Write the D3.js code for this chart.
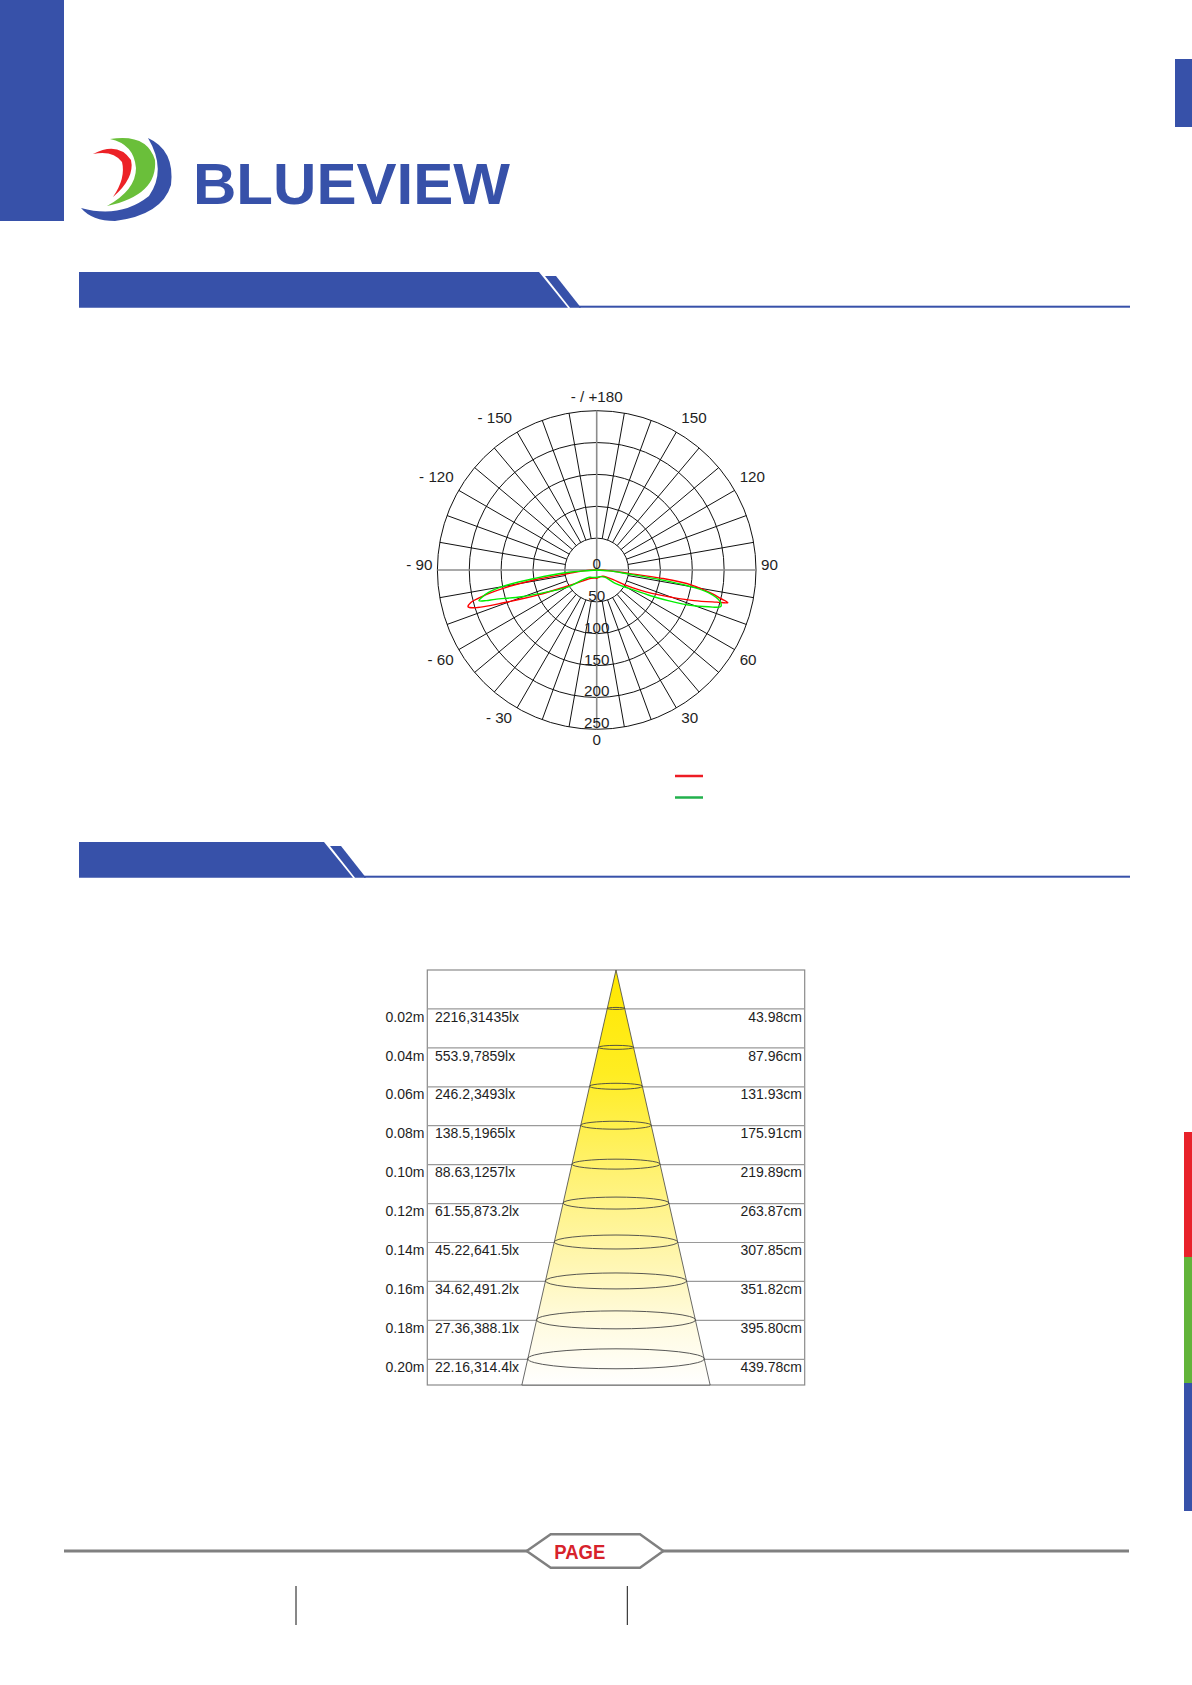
<!doctype html>
<html lang="en">
<head>
  <meta charset="utf-8">
  <title>Blueview photometric data</title>
  <script src="https://cdn.jsdelivr.net/npm/d3@7"></script>
  <style>
    body { margin: 0; background: #fff; }
    svg { display: block; font-family: "Liberation Sans", Arial, sans-serif; }
  </style>
</head>
<body>
  <div id="page"></div>
  <script>
    const BLUE = "#3751a9";
    const RED = "#e8222a";
    const GREEN = "#62b43a";
    const GRID = "#111";
    const AXIS_GREY = "#8c8c8c";
    const TEXT = "#1e1e1e";

    // polar chart: intensity rings (cd/klm) and angle labels
    const ringTicks = [0, 50, 100, 150, 200, 250];
    const angleTicks = [0, 30, 60, 90, 120, 150, 180, -150, -120, -90, -60, -30];
    const angleTickLabels = ["0", "30", "60", "90", "120", "150", "- / +180", "- 150", "- 120", "- 90", "- 60", "- 30"];

    // C0-C180 plane (red), angle 0 = straight down
    const redAngles = [-90, -87, -83, -81, -79, -77, -75.5, -74, -72.5, -70.5, -67, -62, -55, -49, -35, -15, 0,
      15, 30, 45, 55, 60, 62, 65, 67, 70, 72.5, 75, 76, 77, 78.5, 81, 82.7, 84, 87, 90];
    const redValues = [0, 18, 45, 98, 147, 185, 204, 210, 196, 153, 100, 56, 33, 24, 16, 13, 13,
      12, 12, 14, 20, 30, 50, 75, 94, 125, 160, 195, 212, 200, 184, 151, 103, 50, 18, 0];

    // C90-C270 plane (green)
    const greenAngles = [-90, -85, -82.3, -80.3, -78.2, -76.5, -75.4, -74.5, -73.9, -70.4, -65.8, -59.5, -56, -45, -34, 0,
      30, 48.6, 54, 60, 64.2, 66.8, 69.1, 71.8, 73.6, 75.6, 78.5, 80.1, 81.3, 82.8, 86, 90];
    const greenValues = [0, 50, 98, 146, 174, 186, 191, 180, 166, 125, 83, 52, 30, 16, 14, 11.5,
      12, 17, 36, 57, 90, 122, 154, 185, 203, 200, 179, 146, 103, 50, 20, 0];

    // cone diagram
    const distances = [0.02, 0.04, 0.06, 0.08, 0.10, 0.12, 0.14, 0.16, 0.18, 0.20];
    const distanceLabels = ["0.02m", "0.04m", "0.06m", "0.08m", "0.10m", "0.12m", "0.14m", "0.16m", "0.18m", "0.20m"];
    const luxLabels = ["2216,31435lx", "553.9,7859lx", "246.2,3493lx", "138.5,1965lx", "88.63,1257lx",
      "61.55,873.2lx", "45.22,641.5lx", "34.62,491.2lx", "27.36,388.1lx", "22.16,314.4lx"];
    const beamDiameters = [43.98, 87.96, 131.93, 175.91, 219.89, 263.87, 307.85, 351.82, 395.80, 439.78];
    const beamLabels = ["43.98cm", "87.96cm", "131.93cm", "175.91cm", "219.89cm", "263.87cm", "307.85cm", "351.82cm", "395.80cm", "439.78cm"];

    const W = 1192, H = 1685;

    const svg = d3.select("#page").append("svg")
      .attr("width", W)
      .attr("height", H);

    const defs = svg.append("defs");

    // ---------- page furniture ----------
    svg.append("rect").attr("x", 0).attr("y", 0).attr("width", 64).attr("height", 221).attr("fill", BLUE);
    svg.append("rect").attr("x", 1175).attr("y", 59).attr("width", 17).attr("height", 68).attr("fill", BLUE);
    svg.append("rect").attr("x", 1184).attr("y", 1132).attr("width", 8).attr("height", 125).attr("fill", RED);
    svg.append("rect").attr("x", 1184).attr("y", 1257).attr("width", 8).attr("height", 126).attr("fill", GREEN);
    svg.append("rect").attr("x", 1184).attr("y", 1383).attr("width", 8).attr("height", 128).attr("fill", BLUE);

    // logo
    const logo = svg.append("g");
    logo.append("path")
      .attr("d", "M93,154 Q118,141 131,160 Q135,178 113,197 Q126,178 122,162 Q113,150 93,154 Z")
      .attr("fill", "#ec2227");
    logo.append("path")
      .attr("d", "M110,139 Q147,133 155,160 Q158,195 107,206 Q136,190 136,168 Q134,144 110,139 Z")
      .attr("fill", "#6abf3a");
    logo.append("path")
      .attr("d", "M148,138 Q175,150 171,185 Q162,215 115,221 Q92,221 81,208 Q120,219 149,196 Q167,170 148,138 Z")
      .attr("fill", BLUE);
    logo.append("text")
      .attr("x", 193)
      .attr("y", 204)
      .attr("textLength", 317)
      .attr("lengthAdjust", "spacingAndGlyphs")
      .style("font-size", "58px")
      .style("font-weight", "bold")
      .style("fill", BLUE)
      .text("BLUEVIEW");

    function addHeader(y, barEnd) {
      const h = 35.7, slant = 29;
      svg.append("polygon")
        .attr("points", [[79, y], [barEnd, y], [barEnd + slant, y + h], [79, y + h]].join(" "))
        .attr("fill", BLUE);
      svg.append("polygon")
        .attr("points", [[barEnd + 6, y + 4], [barEnd + 17, y + 4], [barEnd + 42, y + h], [barEnd + 31, y + h]].join(" "))
        .attr("fill", BLUE);
      svg.append("rect")
        .attr("x", barEnd + 40).attr("y", y + h - 2)
        .attr("width", 1130 - barEnd - 40).attr("height", 2)
        .attr("fill", BLUE);
    }
    addHeader(272, 539);
    addHeader(842, 324);

    // ---------- polar chart ----------
    const cx = 596.7, cy = 570, R = 159.3;
    const rScale = d3.scaleLinear().domain([0, 250]).range([0, R]);
    // 0 deg points down, positive angles to the right
    const toRad = deg => (180 - deg) * Math.PI / 180;

    const polar = svg.append("g").attr("transform", `translate(${cx},${cy})`);

    polar.selectAll("circle.ring")
      .data(ringTicks.slice(1))
      .join("circle")
      .attr("class", "ring")
      .attr("r", d => rScale(d))
      .attr("fill", "none")
      .attr("stroke", GRID)
      .attr("stroke-width", 1);

    polar.selectAll("line.spoke")
      .data(d3.range(0, 360, 10).filter(a => a % 90 !== 0))
      .join("line")
      .attr("class", "spoke")
      .attr("x1", a => rScale(50) * Math.sin(toRad(a)))
      .attr("y1", a => -rScale(50) * Math.cos(toRad(a)))
      .attr("x2", a => R * Math.sin(toRad(a)))
      .attr("y2", a => -R * Math.cos(toRad(a)))
      .attr("stroke", GRID)
      .attr("stroke-width", 1);

    polar.append("line").attr("x1", -R).attr("x2", R).attr("y1", 0).attr("y2", 0)
      .attr("stroke", AXIS_GREY).attr("stroke-width", 1.6);
    polar.append("line").attr("x1", 0).attr("x2", 0).attr("y1", -R).attr("y2", R)
      .attr("stroke", AXIS_GREY).attr("stroke-width", 1.6);

    // angle labels sit just outside the rim, pushed away from the circle
    function angleLabelPos(a) {
      const s = Math.sin(a * Math.PI / 180);
      const c = Math.cos(a * Math.PI / 180);
      const sx = Math.abs(s) < 0.01 ? 0 : Math.sign(s);
      const sy = Math.abs(c) < 0.01 ? 0 : Math.sign(c);
      return {
        x: R * s + 5 * sx,
        y: R * c + (sy > 0 ? 10 : sy < 0 ? -14 : -5),
        anchor: sx > 0 ? "start" : sx < 0 ? "end" : "middle"
      };
    }

    polar.selectAll("text.angle")
      .data(angleTicks)
      .join("text")
      .attr("class", "angle")
      .attr("x", a => angleLabelPos(a).x)
      .attr("y", a => angleLabelPos(a).y)
      .attr("dy", "0.35em")
      .style("text-anchor", a => angleLabelPos(a).anchor)
      .style("font-size", "15.2px")
      .style("fill", TEXT)
      .text((a, i) => angleTickLabels[i]);

    polar.selectAll("text.ring-label")
      .data(ringTicks)
      .join("text")
      .attr("class", "ring-label")
      .attr("x", 0)
      .attr("y", d => rScale(d) - 1)
      .style("text-anchor", "middle")
      .style("font-size", "15.2px")
      .style("fill", TEXT)
      .text(d => d);

    const radial = d3.lineRadial()
      .angle(d => toRad(d.a))
      .radius(d => rScale(d.v))
      .curve(d3.curveCatmullRom.alpha(0.5));

    const redCurve = redAngles.map((a, i) => ({ a, v: redValues[i] }));
    const greenCurve = greenAngles.map((a, i) => ({ a, v: greenValues[i] }));

    polar.append("path")
      .datum(redCurve)
      .attr("d", radial)
      .attr("fill", "none")
      .attr("stroke", "#ff0000")
      .attr("stroke-width", 1.4);
    polar.append("path")
      .datum(greenCurve)
      .attr("d", radial)
      .attr("fill", "none")
      .attr("stroke", "#00ee00")
      .attr("stroke-width", 1.4);

    // legend swatches
    svg.append("line").attr("x1", 675).attr("x2", 703).attr("y1", 776).attr("y2", 776)
      .attr("stroke", "#ed1c24").attr("stroke-width", 2.5);
    svg.append("line").attr("x1", 675).attr("x2", 703).attr("y1", 797.5).attr("y2", 797.5)
      .attr("stroke", "#22b14c").attr("stroke-width", 2.5);

    // ---------- cone diagram ----------
    const boxLeft = 427.3, boxRight = 804.7, boxTop = 970, boxBottom = 1385, apexX = 616;
    const yScale = d3.scaleLinear().domain([0, 0.2]).range([boxTop, 1359.3]);
    const halfWidth = d3.scaleLinear().domain([0, 439.78]).range([0, 88.3]);
    const bottomDiameter = 439.78 * yScale.invert(boxBottom) / 0.2;

    const grad = defs.append("linearGradient")
      .attr("id", "beam")
      .attr("gradientUnits", "userSpaceOnUse")
      .attr("x1", 0).attr("x2", 0)
      .attr("y1", boxTop).attr("y2", boxBottom);
    grad.append("stop").attr("offset", 0).attr("stop-color", "#ffe800");
    grad.append("stop").attr("offset", 0.25).attr("stop-color", "#ffed22");
    grad.append("stop").attr("offset", 0.5).attr("stop-color", "#fff275");
    grad.append("stop").attr("offset", 0.7).attr("stop-color", "#fff6b0");
    grad.append("stop").attr("offset", 0.86).attr("stop-color", "#fffbe2");
    grad.append("stop").attr("offset", 1).attr("stop-color", "#ffffff");

    const cone = svg.append("g");

    cone.append("rect")
      .attr("x", boxLeft).attr("y", boxTop)
      .attr("width", boxRight - boxLeft).attr("height", boxBottom - boxTop)
      .attr("fill", "none")
      .attr("stroke", "#8a8a8a")
      .attr("stroke-width", 1.2);

    cone.selectAll("line.row")
      .data(distances)
      .join("line")
      .attr("class", "row")
      .attr("x1", boxLeft).attr("x2", boxRight)
      .attr("y1", d => yScale(d)).attr("y2", d => yScale(d))
      .attr("stroke", "#9a9a9a")
      .attr("stroke-width", 1.2);

    const hb = halfWidth(bottomDiameter);
    cone.append("polygon")
      .attr("points", [[apexX, boxTop], [apexX + hb, boxBottom], [apexX - hb, boxBottom]].join(" "))
      .attr("fill", "url(#beam)")
      .attr("stroke", "#444")
      .attr("stroke-width", 0.8);

    cone.selectAll("ellipse")
      .data(distances)
      .join("ellipse")
      .attr("cx", apexX)
      .attr("cy", d => yScale(d) - 0.5)
      .attr("rx", (d, i) => halfWidth(beamDiameters[i]))
      .attr("ry", (d, i) => halfWidth(beamDiameters[i]) * 0.113)
      .attr("fill", "none")
      .attr("stroke", "#444")
      .attr("stroke-width", 0.9);

    const label = (sel, x, anchor, texts) => sel
      .data(distances)
      .join("text")
      .attr("x", x)
      .attr("y", d => yScale(d) + 12.7)
      .style("text-anchor", anchor)
      .style("font-size", "14px")
      .style("fill", TEXT)
      .text((d, i) => texts[i]);

    label(cone.selectAll("text.dist"), 424.5, "end", distanceLabels).attr("class", "dist");
    label(cone.selectAll("text.lux"), 435, "start", luxLabels).attr("class", "lux");
    label(cone.selectAll("text.beam"), 802, "end", beamLabels).attr("class", "beam");

    // ---------- footer ----------
    svg.append("line").attr("x1", 64).attr("x2", 1129).attr("y1", 1551).attr("y2", 1551)
      .attr("stroke", "#808080").attr("stroke-width", 3);
    svg.append("polygon")
      .attr("points", [[526.7, 1551], [550.7, 1534.3], [640, 1534.3], [663.3, 1551], [640, 1567.7], [550.7, 1567.7]].join(" "))
      .attr("fill", "#fff")
      .attr("stroke", "#808080")
      .attr("stroke-width", 2.5);
    svg.append("text")
      .attr("x", 554.3)
      .attr("y", 1558.5)
      .attr("textLength", 51)
      .attr("lengthAdjust", "spacingAndGlyphs")
      .style("font-size", "20px")
      .style("font-weight", "bold")
      .style("fill", "#d7222b")
      .text("PAGE");
    [296, 627.3].forEach(x => {
      svg.append("line").attr("x1", x).attr("x2", x).attr("y1", 1586).attr("y2", 1625)
        .attr("stroke", "#111").attr("stroke-width", 1);
    });
  </script>
</body>
</html>
